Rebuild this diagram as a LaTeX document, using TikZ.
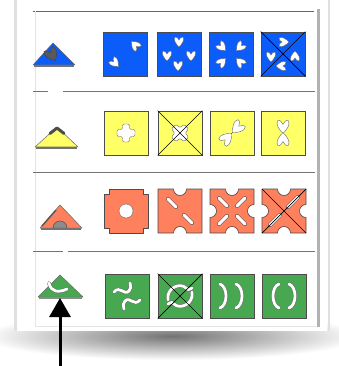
\documentclass[tikz,border=0pt]{standalone}
\usetikzlibrary{arrows.meta}
\definecolor{tileblue}{RGB}{12,92,250}
\definecolor{tileyellow}{RGB}{255,255,102}
\definecolor{tileorange}{RGB}{255,128,92}
\definecolor{tilegreen}{RGB}{72,168,82}

\begin{document}
\begin{tikzpicture}[x=1pt,y=-1pt]
\tikzset{
  tile/.style={draw=black!70,line width=0.6pt,minimum size=44pt,inner sep=0pt},
  piece/.style={draw=black!70,line width=0.6pt,fill=tileorange,line join=round},
  triface/.style={draw=black!60,line width=0.5pt,line join=round},
  crossline/.style={draw=black,line width=0.7pt},
  cutout/.style={fill=white,draw=black!60,line width=0.4pt},
  slot/.style={draw=black!65,line width=0.5pt,double=white,double distance=3pt,line cap=round},
  curl/.style={draw=black!60,line width=0.45pt,double=white,double distance=2.8pt,line cap=round},
  rule/.style={draw=black!55,line width=0.8pt},
  pointer/.style={draw=black,line width=3pt,-{Triangle[length=19pt,width=21pt]}},
  chev/.pic={\path[cutout] (0,5) .. controls (-3,2) and (-6,-2) .. (-4,-5)
      .. controls (-2,-6) and (-1,-3) .. (0,-2) .. controls (1,-3) and (2,-6) .. (4,-5)
      .. controls (6,-2) and (3,2) .. (0,5) -- cycle;},
  plus/.pic={\path[cutout,rounded corners=2pt] (-3.5,-9) -- (3.5,-9) -- (3.5,-3.5) -- (9,-3.5)
      -- (9,3.5) -- (3.5,3.5) -- (3.5,9) -- (-3.5,9) -- (-3.5,3.5) -- (-9,3.5)
      -- (-9,-3.5) -- (-3.5,-3.5) -- cycle;},
  cornerpiece/.pic={\path[piece] (-17,-22) -- (17,-22) -- (17,-17) -- (22,-17) -- (22,17)
      -- (17,17) -- (17,22) -- (-17,22) -- (-17,17) -- (-22,17) -- (-22,-17) -- (-17,-17) -- cycle;},
  twonotch/.pic={\path[piece] (-22,-22) -- (-6.5,-22) arc[start angle=180,end angle=0,radius=6.5]
      -- (22,-22) -- (22,22) -- (6.5,22) arc[start angle=0,end angle=-180,radius=6.5]
      -- (-22,22) -- cycle;},
  fournotch/.pic={\path[piece] (-22,-22) -- (-6.5,-22) arc[start angle=180,end angle=0,radius=6.5]
      -- (22,-22) -- (22,-6.5) arc[start angle=270,end angle=90,radius=6.5]
      -- (22,22) -- (6.5,22) arc[start angle=0,end angle=-180,radius=6.5]
      -- (-22,22) -- (-22,6.5) arc[start angle=90,end angle=-90,radius=6.5] -- cycle;}
}
\useasboundingbox (0,0) rectangle (338,366);
% card with its shadow
\fill[white] (0,0) rectangle (338,366);
\shade[inner color=black!55,outer color=white] (172,336) ellipse[x radius=190,y radius=24];
\fill[white] (17,0) rectangle (327,331);
\draw[black!12,line width=3pt] (15.5,0) -- (15.5,331);
\draw[black!12,line width=2pt] (328.5,0) -- (328.5,331);
% inner frame
\draw[black!60,line width=0.8pt] (33,11) -- (314,11);
\draw[black!30,line width=3pt] (318.5,9) -- (318.5,327);
\draw[black!10,line width=0.6pt] (35,11) -- (35,326) -- (316,326);
\draw[rule] (33,91) -- (48,91);
\draw[rule] (63,91) -- (315,91);
\draw[rule] (33,172) -- (315,172);
\draw[rule] (33,251) -- (63,251);
\draw[rule] (68,251) -- (315,251);

% triangles
\filldraw[triface,fill=tileblue] (33,65) -- (53,43) -- (75,65) -- cycle;
\draw[black!55,line width=1.3pt] (34,66) -- (74,66);
\pic[rotate=30,scale=1.35,cutout/.style={fill=black!65,draw=black!75,line width=0.4pt}] at (52,55) {chev};
\filldraw[triface,fill=tileyellow] (35,147) -- (57,127) -- (78,147) -- cycle;
\draw[black!55,line width=1.3pt] (36,148) -- (77,148);
\draw[black!70,line width=3pt,line join=round,line cap=round] (50,133.5) -- (57,128) -- (64,133.5);
\filldraw[triface,fill=tileorange] (40,228) -- (60,205) -- (82,228) -- cycle;
\draw[black!65,line width=1.5pt] (42,226) -- (56,210);
\filldraw[fill=black!45,draw=black!70,line width=0.5pt] (53,228) arc[start angle=180,end angle=360,radius=7] -- cycle;
\draw[black!55,line width=1.3pt] (41,229) -- (81,229);
\filldraw[triface,fill=tilegreen] (38,297) -- (60,275) -- (83,297) -- cycle;
\draw[black!45,line width=1.3pt] (39,298) -- (82,298);
\draw[curl] (49,283) .. controls (51,292) and (58,293) .. (67,289);
\coordinate (gbase) at (60,298);
\coordinate (gfoot) at (60,368);
\draw[pointer] (gfoot) -- (gbase);

% blue row
\node[tile,fill=tileblue] (b1) at (125,54) {};
\node[tile,fill=tileblue] (b2) at (179,54) {};
\node[tile,fill=tileblue] (b3) at (231,54) {};
\node[tile,fill=tileblue] (b4) at (283,54) {};
\begin{scope}[shift={(b1)}]
  \pic[rotate=-135] at (10,-9) {chev};
  \pic[rotate=45] at (-10,9) {chev};
\end{scope}
\begin{scope}[shift={(b2)}]
  \pic at (0,-12) {chev};
  \pic at (-12,2) {chev};
  \pic at (12,2) {chev};
  \pic at (-1,12) {chev};
\end{scope}
\begin{scope}[shift={(b3)}]
  \pic[rotate=45] at (-9,-7) {chev};
  \pic[rotate=-45] at (9,-7) {chev};
  \pic[rotate=135] at (-9,8) {chev};
  \pic[rotate=-135] at (9,8) {chev};
\end{scope}
\begin{scope}[shift={(b4)}]
  \pic[rotate=90] at (1,-12) {chev};
  \pic at (-12,3) {chev};
  \pic[rotate=180] at (12,2) {chev};
  \pic[rotate=-90] at (-2,12) {chev};
\end{scope}
\draw[crossline] (b4.north west) -- (b4.south east);
\draw[crossline] (b4.north east) -- (b4.south west);

% yellow row
\node[tile,fill=tileyellow] (y1) at (126,133) {};
\node[tile,fill=tileyellow] (y2) at (180,133) {};
\node[tile,fill=tileyellow] (y3) at (232,133) {};
\node[tile,fill=tileyellow] (y4) at (283,133) {};
\pic at (y1) {plus};
\pic[rotate=45] at (y2) {plus};
\draw[crossline] (y2.north west) -- (y2.south east);
\draw[crossline] (y2.north east) -- (y2.south west);
\begin{scope}[shift={(y3)}]
  \pic[rotate=-45,scale=1.3] at (5,-5) {chev};
  \pic[rotate=135,scale=1.3] at (-5,5) {chev};
\end{scope}
\begin{scope}[shift={(y4)}]
  \pic[scale=1.3] at (0,-6) {chev};
  \pic[rotate=180,scale=1.3] at (0,6) {chev};
\end{scope}

% orange row
\coordinate (o1) at (126,211);
\coordinate (o2) at (180,211);
\coordinate (o3) at (232,211);
\coordinate (o4) at (284,211);
\pic at (o1) {cornerpiece};
\path[cutout] (o1) circle[radius=7];
\begin{scope}[shift={(o2)}]
  \pic {twonotch};
  \draw[slot] (-12,-12) -- (-4,-4);
  \draw[slot] (4,4) -- (12,12);
\end{scope}
\begin{scope}[shift={(o3)}]
  \pic {fournotch};
  \draw[slot] (-13,-13) -- (-5,-5);
  \draw[slot] (13,-13) -- (5,-5);
  \draw[slot] (5,5) -- (13,13);
  \draw[slot] (-5,5) -- (-13,13);
\end{scope}
\begin{scope}[shift={(o4)}]
  \pic {fournotch};
  \draw[slot] (-14,14) -- (-4,4);
  \draw[slot] (4,-4) -- (14,-14);
  \draw[crossline] (-22,-22) -- (22,22);
  \draw[crossline] (22,-22) -- (-22,22);
\end{scope}

% green row
\node[tile,fill=tilegreen] (g1) at (127,296) {};
\node[tile,fill=tilegreen] (g2) at (180,296) {};
\node[tile,fill=tilegreen] (g3) at (232,296) {};
\node[tile,fill=tilegreen] (g4) at (284,296) {};
\begin{scope}[shift={(g1)}]
  \draw[curl] (-13,-4) .. controls (-7,-11) and (-3,0) .. (2,-5) .. controls (4,-8) .. (3,-13);
  \draw[curl] (13,4) .. controls (7,11) and (3,0) .. (-2,5) .. controls (-4,8) .. (-3,13);
\end{scope}
\begin{scope}[shift={(g2)}]
  \draw[curl] (-12,4) .. controls (-14,-8) and (0,-14) .. (6,-8) .. controls (8,-6) .. (12,-8);
  \draw[curl] (12,-4) .. controls (14,8) and (0,14) .. (-6,8) .. controls (-8,6) .. (-12,8);
\end{scope}
\draw[crossline] (g2.north west) -- (g2.south east);
\draw[crossline] (g2.north east) -- (g2.south west);
\begin{scope}[shift={(g3)}]
  \draw[curl] (-12,-12) .. controls (-4,-9) and (-4,9) .. (-12,12);
  \draw[curl] (4,-12) .. controls (12,-9) and (12,9) .. (4,12);
\end{scope}
\begin{scope}[shift={(g4)}]
  \draw[curl] (-5,-12) .. controls (-13,-9) and (-13,9) .. (-5,12);
  \draw[curl] (5,-12) .. controls (13,-9) and (13,9) .. (5,12);
\end{scope}
\end{tikzpicture}
\end{document}
